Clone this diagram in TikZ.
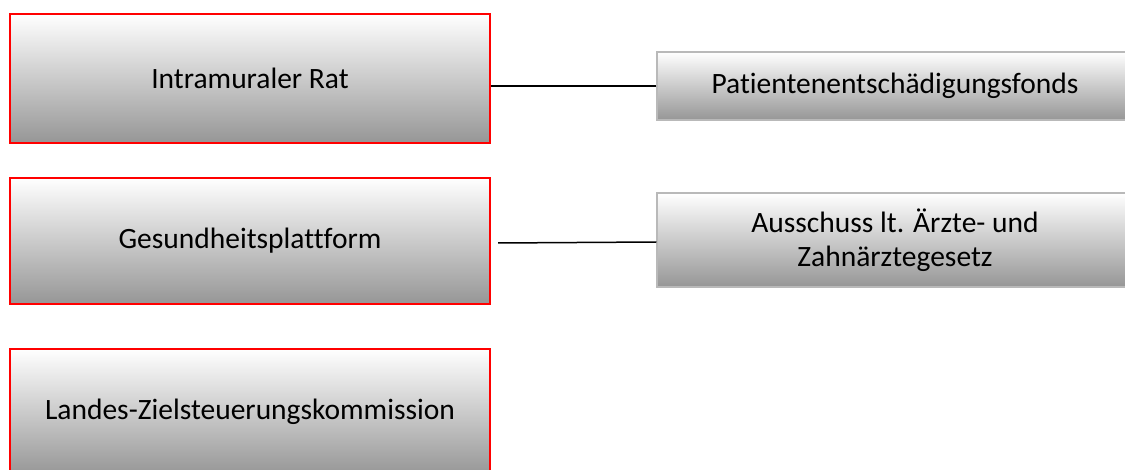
\documentclass[tikz,border=0pt]{standalone}
\usepackage{fontspec}
\setmainfont{Carlito}[Ligatures={NoCommon}]
\definecolor{shadebot}{RGB}{150,150,150}
\definecolor{greyline}{RGB}{185,185,185}
\begin{document}
\begin{tikzpicture}[x=1pt,y=-1pt,
  redbox/.style={draw={rgb,255:red,255;green,0;blue,0}, line width=2pt, top color=white, bottom color=shadebot,
    minimum width=480pt, inner sep=0pt, font=\fontsize{29.5}{34}\selectfont, align=center},
  greybox/.style={draw=greyline, line width=1.5pt, top color=white, bottom color=shadebot,
    minimum width=476pt, inner sep=0pt, font=\fontsize{29.5}{34}\selectfont, align=center},
  link/.style={draw=black, line width=1.5pt}]
\useasboundingbox (0,0) rectangle (1125,470);
\clip (0,0) rectangle (1125,470);
\node[redbox, minimum height=129pt] (b1) at (250,78.5) {Intramuraler Rat};
\node[redbox, minimum height=126pt] (b2) at (250,241) {Gesundheitsplattform};
\node[redbox, minimum height=126pt] (b3) at (250,412) {Landes-Zielsteuerungskommission};
\node[greybox, minimum height=68pt] (r1) at (895,86) {Patientenentschädigungsfonds};
\node[greybox, minimum height=94pt] (r2) at (895,240) {Ausschuss lt. Ärzte- und\\Zahnärztegesetz};
\draw[link] (r1.west) -- (r1.west -| b1.east);
\draw[link] ([yshift=-2pt]r2.west) -- ([xshift=7pt,yshift=-3pt]b2.east |- r2.west);
\end{tikzpicture}
\end{document}
